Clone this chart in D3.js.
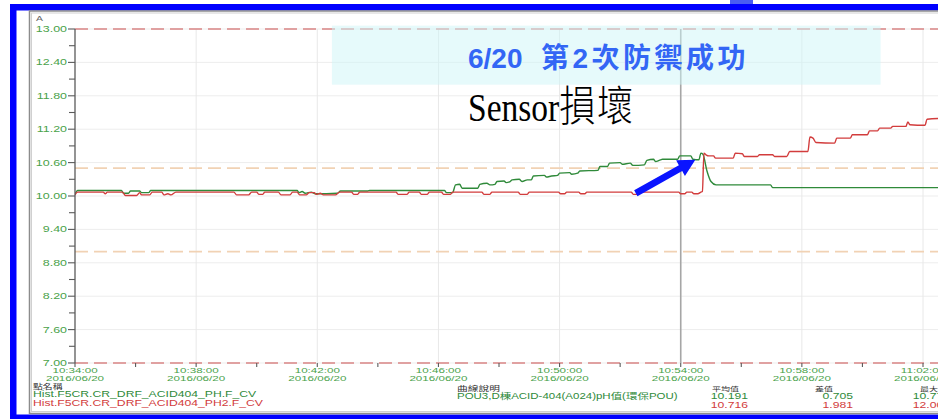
<!DOCTYPE html>
<html>
<head>
<meta charset="utf-8">
<script src="https://cdn.jsdelivr.net/npm/d3@7"></script>
<style>
  html, body { margin: 0; padding: 0; background: #ffffff; }
  svg { display: block; }
</style>
</head>
<body>
<svg id="chart" width="938" height="419"></svg>
<script>
// ---- data ----
const yMajorTicks = [13.00, 12.40, 11.80, 11.20, 10.60, 10.00, 9.40, 8.80, 8.20, 7.60, 7.00];
const xMajorTicks = ["10:34:00", "10:38:00", "10:42:00", "10:46:00", "10:50:00", "10:54:00", "10:58:00", "11:02:00"];
const xMinorTicks = ["10:36:00", "10:40:00", "10:44:00", "10:48:00", "10:52:00", "10:56:00", "11:00:00", "11:04:00"];
const tickDate = "2016/06/20";
const cursorTime = "10:54:00";
const highLimits = [13.0, 7.0];     // outer limits (red dashed)
const alarmLimits = [10.5, 9.0];    // alarm band (orange dashed)

// pH trend (Hist.F5CR.CR_DRF_ACID404_PH.F_CV)
const phSeries = [
  ["10:34:00",10.03],["10:34:05",10.10],["10:35:32",10.10],["10:35:36",10.05],["10:35:46",10.05],
  ["10:35:50",10.09],["10:36:08",10.09],["10:36:12",10.06],["10:36:26",10.06],["10:36:30",10.10],
  ["10:41:20",10.10],["10:41:24",10.06],["10:41:30",10.08],["10:41:36",10.05],["10:41:48",10.07],
  ["10:41:56",10.04],["10:42:40",10.05],["10:42:46",10.09],["10:43:40",10.09],["10:43:44",10.10],
  ["10:46:12",10.10],["10:46:16",10.06],["10:46:28",10.06],["10:46:34",10.20],["10:46:42",10.21],
  ["10:46:47",10.14],["10:47:18",10.14],["10:47:22",10.21],["10:47:36",10.23],["10:47:42",10.20],
  ["10:47:52",10.21],["10:47:56",10.26],["10:48:10",10.27],["10:48:14",10.24],["10:48:22",10.26],
  ["10:48:26",10.29],["10:48:40",10.30],["10:48:46",10.26],["10:48:56",10.29],["10:49:04",10.29],
  ["10:49:08",10.36],["10:49:30",10.37],["10:49:34",10.34],["10:49:44",10.36],["10:49:56",10.37],
  ["10:50:00",10.41],["10:50:20",10.42],["10:50:24",10.39],["10:50:36",10.41],["10:50:40",10.45],
  ["10:51:16",10.46],["10:51:20",10.53],["10:51:35",10.53],["10:51:39",10.59],["10:52:00",10.60],
  ["10:52:04",10.57],["10:52:20",10.59],["10:52:25",10.55],["10:52:48",10.56],["10:52:53",10.64],
  ["10:53:06",10.66],["10:53:10",10.62],["10:53:20",10.65],["10:53:24",10.66],["10:53:54",10.66],
  ["10:53:58",10.72],["10:54:20",10.72],["10:54:24",10.66],["10:54:36",10.65],["10:54:40",10.77],
  ["10:54:44",10.75],["10:54:52",10.45],["10:55:00",10.26],["10:55:10",10.20],["10:56:58",10.20],
  ["10:57:02",10.15],["11:03:00",10.15]
];

// pH2 trend (Hist.F5CR.CR_DRF_ACID404_PH2.F_CV)
const ph2Series = [
  ["10:34:00",10.02],["10:34:05",10.07],["10:34:56",10.07],["10:35:00",10.04],["10:35:04",10.07],
  ["10:35:34",10.07],["10:35:40",10.01],["10:36:02",10.01],["10:36:08",10.06],["10:36:12",10.02],
  ["10:36:28",10.02],["10:36:33",10.07],["10:36:52",10.07],["10:36:56",10.02],["10:37:04",10.04],
  ["10:37:10",10.02],["10:37:20",10.07],["10:39:15",10.07],["10:39:20",10.02],["10:39:44",10.02],
  ["10:39:50",10.07],["10:40:00",10.07],["10:40:04",10.03],["10:40:12",10.03],["10:40:16",10.07],
  ["10:40:43",10.07],["10:40:48",10.02],["10:41:06",10.02],["10:41:11",10.07],["10:41:20",10.07],
  ["10:41:25",10.02],["10:41:38",10.02],["10:41:44",10.06],["10:41:54",10.06],["10:41:58",10.03],
  ["10:42:06",10.05],["10:42:12",10.02],["10:42:36",10.02],["10:42:44",10.07],["10:43:08",10.07],
  ["10:43:12",10.03],["10:43:20",10.03],["10:43:24",10.07],["10:44:36",10.07],["10:44:40",10.03],
  ["10:44:58",10.03],["10:45:02",10.07],["10:45:22",10.07],["10:45:26",10.03],["10:45:38",10.03],
  ["10:45:42",10.07],["10:46:06",10.07],["10:46:10",10.03],["10:46:24",10.03],["10:46:28",10.07],
  ["10:47:26",10.07],["10:47:30",10.03],["10:47:42",10.03],["10:47:46",10.07],["10:48:38",10.07],
  ["10:48:42",10.03],["10:48:56",10.03],["10:49:00",10.07],["10:49:58",10.07],["10:50:02",10.04],
  ["10:50:10",10.04],["10:50:14",10.07],["10:50:38",10.07],["10:50:42",10.04],["10:50:50",10.04],
  ["10:50:54",10.07],["10:52:22",10.07],["10:52:26",10.03],["10:52:34",10.03],["10:52:38",10.07],
  ["10:53:56",10.07],["10:54:00",10.04],["10:54:08",10.04],["10:54:12",10.07],["10:54:22",10.07],
  ["10:54:26",10.04],["10:54:34",10.04],["10:54:40",10.07],["10:54:43",10.08],["10:54:46",10.77],
  ["10:54:50",10.74],["10:54:56",10.72],["10:55:05",10.72],["10:55:09",10.68],["10:55:44",10.68],
  ["10:55:48",10.77],["10:56:02",10.76],["10:56:06",10.71],["10:56:32",10.71],["10:56:36",10.74],
  ["10:57:02",10.74],["10:57:06",10.71],["10:57:30",10.71],["10:57:36",10.80],["10:58:12",10.80],
  ["10:58:16",11.06],["10:58:22",11.04],["10:58:28",10.96],["10:59:05",10.95],["10:59:09",11.04],
  ["10:59:36",11.04],["10:59:40",11.10],["11:00:10",11.10],["11:00:14",11.17],["11:00:30",11.17],
  ["11:00:34",11.22],["11:00:56",11.22],["11:01:00",11.25],["11:01:26",11.25],["11:01:30",11.33],
  ["11:01:34",11.28],["11:02:04",11.27],["11:02:08",11.38],["11:03:00",11.40]
];

const tagNames = ["Hist.F5CR.CR_DRF_ACID404_PH.F_CV", "Hist.F5CR.CR_DRF_ACID404_PH2.F_CV"];
const curveDescription = "POU3,D棟ACID-404(A024)pH值(環保POU)";
const averageValues = [10.191, 10.716];
const rangeValues = [0.705, 1.981];
const maxValues = [10.770, 12.001];
const headerLabels = ["點名稱", "曲線說明", "平均值", "差值", "最大值"];

// annotation
const bannerDate = "6/20 ";
const bannerMessage = "第2次防禦成功";
const noteLatin = "Sensor";
const noteCjk = "損壞";
const bannerSpan = [["10:42:29", 13.06], ["11:00:36", 12.00]];
const arrowFrom = ["10:52:31", 10.05];
const arrowTo = ["10:54:29", 10.65];

// ---- setup ----
const COLORS = { ph: "#2f8a3a", ph2: "#d23c3c", label: "#4aa24a", axis: "#5a5a5a" };
const SX = 1.45; // horizontal stretch of the trend viewer's text
const parseTime = d3.timeParse("%H:%M:%S");
const svg = d3.select("#chart");

const x = d3.scaleTime()
  .domain([parseTime("10:34:00"), parseTime("11:06:00")])
  .range([75, 75 + 32 * 30.286]);
const y = d3.scaleLinear().domain([7, 13]).range([363, 29]);
const plotRight = 938;

// frame
svg.append("rect").attr("x", 0).attr("y", 0).attr("width", 938).attr("height", 419).attr("fill", "#fff");
svg.append("rect").attr("x", 730).attr("y", 0).attr("width", 23).attr("height", 5).attr("fill", "#4a5cf2");
svg.append("rect").attr("x", 10).attr("y", 4).attr("width", 928).attr("height", 6.5).attr("fill", "#0000ff");
svg.append("rect").attr("x", 10).attr("y", 4).attr("width", 6.5).attr("height", 415).attr("fill", "#0000ff");
svg.append("rect").attr("x", 10).attr("y", 414.5).attr("width", 928).attr("height", 4.5).attr("fill", "#0000ff");
// inner window frame
svg.append("rect").attr("x", 29.5).attr("y", 11).attr("width", 920).attr("height", 402.5)
  .attr("fill", "none").attr("stroke", "#8c8c8c").attr("stroke-width", 1.5);
svg.append("rect").attr("x", 31.5).attr("y", 13).attr("width", 920).attr("height", 398.5)
  .attr("fill", "none").attr("stroke", "#d0d0d0").attr("stroke-width", 1);

svg.append("clipPath").attr("id", "plotClip")
  .append("rect").attr("x", 75).attr("y", 20).attr("width", plotRight - 75).attr("height", 350);

const plot = svg.append("g").attr("clip-path", "url(#plotClip)");

// grid
plot.append("g").selectAll("line").data(yMajorTicks).join("line")
  .attr("x1", 75).attr("x2", plotRight)
  .attr("y1", d => y(d)).attr("y2", d => y(d))
  .attr("stroke", "#ededed").attr("stroke-width", 1);
plot.append("g").selectAll("line").data(xMajorTicks.slice(1)).join("line")
  .attr("x1", d => x(parseTime(d))).attr("x2", d => x(parseTime(d)))
  .attr("y1", y(13)).attr("y2", y(7))
  .attr("stroke", "#e8e8e8").attr("stroke-width", 1);

// limit lines
plot.append("g").selectAll("line").data(alarmLimits).join("line")
  .attr("x1", 75).attr("x2", plotRight)
  .attr("y1", d => y(d)).attr("y2", d => y(d))
  .attr("stroke", "#f1d2b4").attr("stroke-width", 1.6).attr("stroke-dasharray", "13,6");
plot.append("g").selectAll("line").data(highLimits).join("line")
  .attr("x1", 75).attr("x2", plotRight)
  .attr("y1", d => y(d)).attr("y2", d => y(d))
  .attr("stroke", "#d98585").attr("stroke-width", 1.6).attr("stroke-dasharray", "13,6");

// cursor
plot.append("line")
  .attr("x1", x(parseTime(cursorTime))).attr("x2", x(parseTime(cursorTime)))
  .attr("y1", y(13)).attr("y2", y(7))
  .attr("stroke", "#a6a6a6").attr("stroke-width", 1.6);

// trend lines
const line = d3.line()
  .x(d => x(parseTime(d[0])))
  .y(d => y(d[1]))
  .curve(d3.curveMonotoneX);
plot.append("path").datum(phSeries).attr("d", line)
  .attr("fill", "none").attr("stroke", COLORS.ph).attr("stroke-width", 1.4);
plot.append("path").datum(ph2Series).attr("d", line)
  .attr("fill", "none").attr("stroke", COLORS.ph2).attr("stroke-width", 1.4);

// y axis
const yMinor = yMajorTicks.slice(1).map(v => v + 0.3);
const yAxis = svg.append("g").attr("transform", "translate(75,0)");
yAxis.append("line").attr("y1", y(13)).attr("y2", y(7)).attr("stroke", COLORS.axis).attr("stroke-width", 1.3);
yAxis.selectAll("line.major").data(yMajorTicks).join("line").attr("class", "major")
  .attr("x1", -7).attr("x2", 0).attr("y1", d => y(d)).attr("y2", d => y(d))
  .attr("stroke", COLORS.axis).attr("stroke-width", 1.1);
yAxis.selectAll("line.minor").data(yMinor).join("line").attr("class", "minor")
  .attr("x1", -6).attr("x2", 0).attr("y1", d => y(d)).attr("y2", d => y(d))
  .attr("stroke", COLORS.axis).attr("stroke-width", 1.1);
yAxis.selectAll("text").data(yMajorTicks).join("text")
  .attr("transform", d => `translate(-8,${y(d) + 3}) scale(${SX},1)`)
  .attr("text-anchor", "end")
  .attr("font-family", "'Liberation Sans', Arial, sans-serif").attr("font-size", 8.6)
  .attr("fill", COLORS.label)
  .text(d => d.toFixed(2));
svg.append("text").attr("transform", "translate(36,21) scale(1.3,1)")
  .attr("font-family", "'Liberation Sans', Arial, sans-serif").attr("font-size", 8)
  .attr("fill", "#666").text("A");

// x axis ticks and labels
const xAxis = svg.append("g").attr("transform", `translate(0,${y(7)})`);
xAxis.selectAll("line.major").data(xMajorTicks).join("line").attr("class", "major")
  .attr("x1", d => x(parseTime(d))).attr("x2", d => x(parseTime(d)))
  .attr("y1", 0).attr("y2", 4).attr("stroke", COLORS.axis).attr("stroke-width", 1.1);
xAxis.selectAll("line.minor").data(xMinorTicks).join("line").attr("class", "minor")
  .attr("x1", d => x(parseTime(d))).attr("x2", d => x(parseTime(d)))
  .attr("y1", 0).attr("y2", 4).attr("stroke", COLORS.axis).attr("stroke-width", 1.1);
const xl = xAxis.selectAll("g.lab").data(xMajorTicks).join("g").attr("class", "lab")
  .attr("transform", d => `translate(${x(parseTime(d))},0)`);
xl.append("text").attr("transform", "translate(0,10) scale(1.55,1)")
  .attr("text-anchor", "middle")
  .attr("font-family", "'Liberation Sans', Arial, sans-serif").attr("font-size", 7.5)
  .attr("fill", COLORS.label).text(d => d);
xl.append("text").attr("transform", "translate(0,17.5) scale(1.55,1)")
  .attr("text-anchor", "middle")
  .attr("font-family", "'Liberation Sans', Arial, sans-serif").attr("font-size", 7.5)
  .attr("fill", COLORS.label).text(tickDate);

// legend table
function stretched(g, px, py, txt, size, fill, anchor, sx) {
  return g.append("text")
    .attr("transform", `translate(${px},${py}) scale(${sx || SX},1)`)
    .attr("text-anchor", anchor || "start")
    .attr("font-family", "'Liberation Sans', 'Noto Sans CJK TC', Arial, sans-serif")
    .attr("font-size", size).attr("fill", fill).text(txt);
}
const legend = svg.append("g");
const seriesColors = [COLORS.ph, COLORS.ph2];
stretched(legend, 33, 388.5, headerLabels[0], 6.8, "#333");
tagNames.forEach((t, i) => stretched(legend, 33, 397 + i * 8.5, t, 8.4, seriesColors[i]));
stretched(legend, 457, 391, headerLabels[1], 7.4, "#333");
stretched(legend, 457, 398.5, curveDescription, 8.2, COLORS.ph, "start", 1.4);
stretched(legend, 712, 391, headerLabels[2], 6.2, "#333");
averageValues.forEach((v, i) => stretched(legend, 748, 399 + i * 9, v.toFixed(3), 8.4, seriesColors[i], "end"));
stretched(legend, 815, 391, headerLabels[3], 6.2, "#333");
rangeValues.forEach((v, i) => stretched(legend, 853, 399 + i * 9, v.toFixed(3), 8.4, seriesColors[i], "end"));
stretched(legend, 920, 391, headerLabels[4], 6.2, "#333");
maxValues.forEach((v, i) => stretched(legend, 950, 399 + i * 9, v.toFixed(3), 8.4, seriesColors[i], "end"));

// annotation banner
const b0 = [x(parseTime(bannerSpan[0][0])), y(bannerSpan[0][1])];
const b1 = [x(parseTime(bannerSpan[1][0])), y(bannerSpan[1][1])];
svg.append("rect").attr("x", b0[0]).attr("y", b0[1])
  .attr("width", b1[0] - b0[0]).attr("height", b1[1] - b0[1])
  .attr("fill", "#cdf5f7").attr("opacity", 0.5);
const banner = svg.append("text").attr("x", 468).attr("y", 68)
  .attr("font-family", "'Liberation Sans', 'Noto Sans CJK TC', Arial, sans-serif")
  .attr("font-weight", "bold").attr("font-size", 28)
  .attr("fill", "#3366f5");
banner.append("tspan").text(bannerDate);
banner.append("tspan").attr("x", 541).attr("letter-spacing", 3.5).text(bannerMessage);

// "Sensor損壞" note, narrowed horizontally as one text run
const note = svg.append("text").attr("transform", "translate(468,121) scale(0.86,1)")
  .attr("font-family", "'Liberation Serif', 'Noto Sans CJK TC', serif")
  .attr("font-size", 39).attr("fill", "#000");
note.append("tspan").text(noteLatin);
note.append("tspan").attr("font-weight", 300).attr("font-size", 42).attr("letter-spacing", 2).text(noteCjk);

// arrow
(function drawArrow() {
  const p0 = [x(parseTime(arrowFrom[0])), y(arrowFrom[1])];
  const p1 = [x(parseTime(arrowTo[0])), y(arrowTo[1])];
  const dx = p1[0] - p0[0], dy = p1[1] - p0[1];
  const len = Math.hypot(dx, dy);
  const ux = dx / len, uy = dy / len, nx = -uy, ny = ux;
  const headLen = 17, headHalf = 9, shaftHalf = 3.4;
  const bx = p1[0] - ux * headLen, by = p1[1] - uy * headLen;
  const pts = [
    [p0[0] + nx * shaftHalf, p0[1] + ny * shaftHalf],
    [bx + nx * shaftHalf, by + ny * shaftHalf],
    [bx + nx * headHalf, by + ny * headHalf],
    p1,
    [bx - nx * headHalf, by - ny * headHalf],
    [bx - nx * shaftHalf, by - ny * shaftHalf],
    [p0[0] - nx * shaftHalf, p0[1] - ny * shaftHalf]
  ];
  svg.append("path").attr("d", d3.line()(pts) + "Z").attr("fill", "#0a14ff");
})();
</script>
</body>
</html>
